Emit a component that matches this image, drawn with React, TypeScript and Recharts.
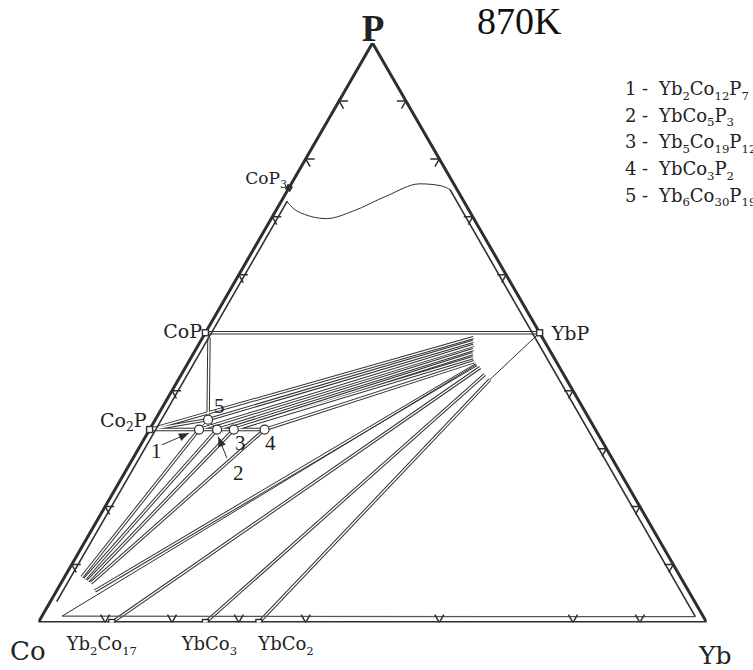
import React from 'react';
import { ComposedChart, Line, Scatter, XAxis, YAxis } from 'recharts';

// compositions in at.% as [Yb, P]; Co is the remainder
type Comp = [number, number];

const H3 = Math.sqrt(3) / 2;
const toXY = ([yb, p]: Comp) => ({ x: yb + p / 2, y: p * H3 });

const corners: Comp[] = [[0, 0], [100, 0], [0, 100], [0, 0]];

const binaryNames = ['CoP3', 'CoP', 'Co2P', 'YbP', 'Yb2Co17', 'YbCo3', 'YbCo2'];
const binaryYb = [0, 0, 0, 50, 11, 25, 33];
const binaryP = [75, 50, 33.3, 50, 0, 0, 0];

const ternaryIds = ['1', '2', '3', '4', '5'];
const ternaryNames = ['Yb2Co12P7', 'YbCo5P3', 'Yb5Co19P12', 'YbCo3P2', 'Yb6Co30P19'];
const ternaryYb = [7.4, 10.1, 12.6, 17.2, 7.9];
const ternaryP = [33.3, 33.3, 33.3, 33.3, 35.0];

// tie lines, drawn double
const doubleTies: Comp[][] = [
  [[0, 50], [50, 50]],
  [[0.96, 49.15], [7.9, 35]],
  [[0, 33.3], [17.2, 33.3]],
  [[0, 33.3], [7.9, 35]],
  [[0, 33.3], [40.5, 49.15]],
  [[7.9, 35], [40.8, 48.5]],
  [[7.4, 33.3], [41.2, 47.8]],
  [[10.1, 33.3], [41.5, 47.1]],
  [[12.6, 33.3], [41.8, 46.4]],
  [[12.6, 33.3], [42.2, 45.7]],
  [[17.2, 33.3], [42.7, 45.0]],
  [[7.4, 33.3], [2.6, 7.86]],
  [[10.1, 33.3], [3.2, 7.52]],
  [[12.6, 33.3], [3.85, 7.17]],
  [[17.2, 33.3], [4.5, 6.82]],
  [[43.3, 44.5], [5.76, 5.44]],
  [[11, 0], [44.1, 44.0]],
  [[25, 0], [45.4, 42.8]],
  [[33, 0], [46.6, 41.9]],
];

const singleTies: Comp[][] = [
  [[7.9, 35], [7.4, 33.3]],
  [[7.9, 35], [10.1, 33.3]],
  [[46.6, 41.9], [50, 50]],
  [[3.0, 1.1], [43.3, 44.5]],
];

const innerLines: Comp[][] = [
  [[0.9, 72.7], [0.95, 3.6]],
  [[3.0, 1.1], [97.8, 1.0]],
  [[24.25, 74.7], [97.8, 1.0]],
];

const liquidus: Comp[] = [
  [0.8, 72.7], [3.2, 71.0], [8.3, 69.7], [11.6, 71.0],
  [15.3, 73.6], [19.25, 75.7], [22.4, 75.4], [24.25, 74.7],
];

const leftTicksP = [10, 20, 40, 60, 70, 80, 90];
const rightTicksP = [10, 20, 30, 40, 60, 70, 80, 90];
const bottomTicksYb = [10, 20, 30, 40, 60, 80, 90];

const arrowTails: Comp[] = [[3.17, 30.67], [14.0, 28.42]];
const arrowTips: Comp[] = [[6.2, 32.65], [10.9, 32.05]];

const ink = '#2f2f2f';
const serif = '"DejaVu Serif", serif';
const times = '"Liberation Serif", serif';

const formula = (f: string, size: number) => {
  const parts = f.match(/[A-Za-z]+|\d+/g) || [];
  let low = false;
  return parts.map((p, i) => {
    const num = /^\d+$/.test(p);
    const dy = num && !low ? size * 0.25 : !num && low ? -size * 0.25 : 0;
    low = num;
    return (
      <tspan key={i} dy={dy} fontSize={num ? size * 0.65 : size}>
        {p}
      </tspan>
    );
  });
};

const Label = ({ f, x, y, size, anchor = 'start' }: any) => (
  <text x={x} y={y} fontSize={size} fontFamily={serif} fill="#222" textAnchor={anchor}>
    {formula(f, size)}
  </text>
);

const seg = (c: Comp[]) => c.map(toXY);

export default function App() {
  const binaries = binaryNames.map((n, i) => ({ name: n, ...toXY([binaryYb[i], binaryP[i]]) }));
  const ternaries = ternaryIds.map((n, i) => ({ name: n, ...toXY([ternaryYb[i], ternaryP[i]]) }));
  const heads = arrowTips.map((t, i) => {
    const a = toXY(t);
    const b = toXY(arrowTails[i]);
    return { ...a, tx: b.x, ty: b.y };
  });

  const lineProps = { dataKey: 'y', dot: false, activeDot: false, isAnimationActive: false, type: 'linear' as const, legendType: 'none' as const };

  return (
    <div style={{ position: 'absolute', left: 0, top: 0, width: 753, height: 670, overflow: 'hidden', background: '#fff' }}>
      <ComposedChart width={753} height={670} margin={{ top: 43, right: 46.3, bottom: 47.5, left: 38.3 }}>
        <XAxis type="number" dataKey="x" domain={[0, 100]} allowDataOverflow hide />
        <YAxis type="number" dataKey="y" domain={[0, 100 * H3]} allowDataOverflow hide />

        {doubleTies.map((t, i) => (
          <Line key={`dd${i}`} {...lineProps} data={seg(t)} stroke={ink} strokeWidth={3.4} />
        ))}
        {doubleTies.map((t, i) => (
          <Line key={`dw${i}`} {...lineProps} data={seg(t)} stroke="#fff" strokeWidth={1.4} />
        ))}
        {singleTies.map((t, i) => (
          <Line key={`s${i}`} {...lineProps} data={seg(t)} stroke={ink} strokeWidth={1} />
        ))}
        {innerLines.map((t, i) => (
          <Line key={`in${i}`} {...lineProps} data={seg(t)} stroke={i === 1 ? '#555' : ink} strokeWidth={i === 1 ? 1.2 : 1.6} />
        ))}
        <Line {...lineProps} type="monotone" data={seg(liquidus)} stroke={ink} strokeWidth={1} />
        {arrowTails.map((t, i) => (
          <Line key={`ar${i}`} {...lineProps} data={seg([t, arrowTips[i]])} stroke={ink} strokeWidth={1} />
        ))}
        <Line {...lineProps} data={seg(corners)} stroke={ink} strokeWidth={3} strokeLinejoin="miter" />

        <Scatter
          data={leftTicksP.map((p) => toXY([0, p]))}
          isAnimationActive={false}
          shape={(pr: any) => (
            <path d={`M${pr.cx + 9},${pr.cy} L${pr.cx},${pr.cy} L${pr.cx + 4.5},${pr.cy + 7.8}`} fill="none" stroke={ink} strokeWidth={1.5} />
          )}
        />
        <Scatter
          data={rightTicksP.map((p) => toXY([100 - p, p]))}
          isAnimationActive={false}
          shape={(pr: any) => (
            <path d={`M${pr.cx - 9},${pr.cy} L${pr.cx},${pr.cy} L${pr.cx - 4.5},${pr.cy + 7.8}`} fill="none" stroke={ink} strokeWidth={1.5} />
          )}
        />
        <Scatter
          data={bottomTicksYb.map((b) => toXY([b, 0]))}
          isAnimationActive={false}
          shape={(pr: any) => (
            <path d={`M${pr.cx - 4.5},${pr.cy - 7.8} L${pr.cx},${pr.cy} L${pr.cx + 4.5},${pr.cy - 7.8}`} fill="none" stroke={ink} strokeWidth={1.5} />
          )}
        />
        <Scatter
          data={binaries}
          isAnimationActive={false}
          shape={(pr: any) =>
            pr.payload.name === 'CoP3' ? (
              <rect x={pr.cx - 3} y={pr.cy - 3} width={6} height={6} fill={ink} transform={`rotate(30 ${pr.cx} ${pr.cy})`} />
            ) : (
              <rect x={pr.cx - 3} y={pr.cy - 3} width={6} height={6} fill="#fff" stroke={ink} strokeWidth={1.4} />
            )
          }
        />
        <Scatter
          data={ternaries}
          isAnimationActive={false}
          shape={(pr: any) => <circle cx={pr.cx} cy={pr.cy} r={4.5} fill="#fff" stroke={ink} strokeWidth={1.2} />}
        />
        <Scatter
          data={heads}
          isAnimationActive={false}
          shape={(pr: any) => {
            const d = pr.payload;
            const ang = (Math.atan2(-(d.y - d.ty), d.x - d.tx) * 180) / Math.PI;
            return (
              <path d={`M${pr.cx},${pr.cy} l-10,-4 l0,8 z`} fill={ink} transform={`rotate(${ang} ${pr.cx} ${pr.cy})`} />
            );
          }}
        />
      </ComposedChart>

      <svg width={753} height={670} style={{ position: 'absolute', left: 0, top: 0, pointerEvents: 'none' }}>
        <text x={373} y={40.5} fontSize={37} fontWeight="bold" fontFamily={times} textAnchor="middle" fill="#222">P</text>
        <text x={477} y={34.3} fontSize={38} fontFamily={times} fill="#111">870K</text>
        <text x={10} y={660} fontSize={26} fontFamily={serif} fill="#222">Co</text>
        <text x={699} y={664} fontSize={25} fontFamily={serif} fill="#222">Yb</text>

        <Label f="Yb2Co17" x={66.7} y={650} size={18} />
        <Label f="YbCo3" x={181.7} y={650} size={18} />
        <Label f="YbCo2" x={258.3} y={650} size={18} />
        <Label f="CoP3" x={287} y={183.5} size={17} anchor="end" />
        <Label f="CoP" x={163.3} y={338} size={19} />
        <Label f="Co2P" x={100} y={426.7} size={19} />
        <Label f="YbP" x={551.7} y={340} size={19} />

        {ternaryIds.map((id, i) => (
          <g key={id}>
            <text x={625} y={95 + i * 26.7} fontSize={18} fontFamily={serif} fill="#222">{id}</text>
            <text x={642} y={95 + i * 26.7} fontSize={18} fontFamily={serif} fill="#222">-</text>
            <Label f={ternaryNames[i]} x={659} y={95 + i * 26.7} size={18} />
          </g>
        ))}

        <g fontFamily={times} fontSize={21} fill="#222">
          <text x={214} y={413}>5</text>
          <text x={151} y={458}>1</text>
          <text x={235} y={450}>3</text>
          <text x={265} y={450}>4</text>
          <text x={233} y={480}>2</text>
        </g>
      </svg>
    </div>
  );
}
